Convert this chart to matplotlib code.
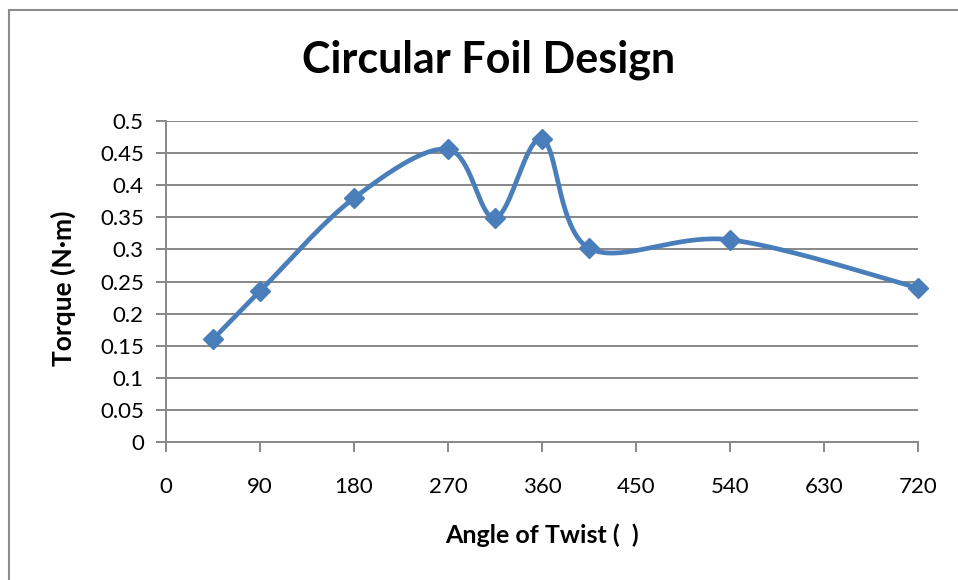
import numpy as np
import matplotlib
matplotlib.use("Agg")
import matplotlib.pyplot as plt
from matplotlib.patches import Rectangle

angles = [45, 90, 180, 270, 315, 360, 405, 540, 720]
torque = [0.160, 0.235, 0.380, 0.456, 0.349, 0.472, 0.302, 0.315, 0.240]
xticks = [0, 90, 180, 270, 360, 450, 540, 630, 720]
yticks = [0, 0.05, 0.1, 0.15, 0.2, 0.25, 0.3, 0.35, 0.4, 0.45, 0.5]
ytick_labels = ["0", "0.05", "0.1", "0.15", "0.2", "0.25", "0.3", "0.35", "0.4", "0.45", "0.5"]
title = "Circular Foil Design"
xlabel = "Angle of Twist (  )"
ylabel = "Torque (N\u00b7m)"

plt.rcParams['font.family'] = ['Lato', 'DejaVu Sans']

def smooth(xs, ys, n=40):
    x = np.asarray(xs, float); y = np.asarray(ys, float)
    px, py = [], []
    for i in range(len(x) - 1):
        x0, y0 = (x[i-1], y[i-1]) if i > 0 else (x[i], y[i])
        x3, y3 = (x[i+2], y[i+2]) if i + 2 < len(x) else (x[i+1], y[i+1])
        x1, y1 = x[i], y[i]
        x2, y2 = x[i+1], y[i+1]
        c1x = x1 + (x2 - x0) / 6; c1y = y1 + (y2 - y0) / 6
        c2x = x2 - (x3 - x1) / 6; c2y = y2 - (y3 - y1) / 6
        t = np.linspace(0, 1, n)
        bx = (1-t)**3*x1 + 3*(1-t)**2*t*c1x + 3*(1-t)*t**2*c2x + t**3*x2
        by = (1-t)**3*y1 + 3*(1-t)**2*t*c1y + 3*(1-t)*t**2*c2y + t**3*y2
        px.extend(bx); py.extend(by)
    return np.array(px), np.array(py)

fig = plt.figure(figsize=(9.58, 5.80), dpi=100)
fig.patches.append(Rectangle((9/958, -0.1), 1.2, 1 - 10/580 + 0.1, transform=fig.transFigure,
                             fill=False, edgecolor='#8c8c8c', linewidth=1.5))
ax = fig.add_axes([166/958, 1 - 442/580, 752/958, 321/580])

gray = '#878787'
ax.set_xlim(0, 720)
ax.set_ylim(0, 0.5)
ax.set_yticks(yticks)
ax.set_yticklabels(ytick_labels)
ax.set_xticks(xticks)
for y in yticks[1:]:
    ax.axhline(y, color=gray, linewidth=1.4, zorder=1)

sx, sy = smooth(angles, torque)
ax.plot(sx, sy, color='#4a7ebb', linewidth=3.4, solid_capstyle='round', zorder=3, clip_on=False)
ax.plot(angles, torque, linestyle='none', marker='D', markersize=10, color='#4a7ebb', zorder=4, clip_on=False)

for s in ['top', 'right']:
    ax.spines[s].set_visible(False)
for s in ['left', 'bottom']:
    ax.spines[s].set_color(gray)
    ax.spines[s].set_linewidth(1.4)
ax.tick_params(axis='both', colors=gray, width=1.4, length=7, labelcolor='black', labelsize=16)
ax.tick_params(axis='x', pad=18)
ax.tick_params(axis='y', pad=9)

fig.text(489/958, 1 - 60/580, title, ha='center', va='center', fontsize=31, fontweight='bold')
fig.text(542/958, 1 - 535/580, xlabel, ha='center', va='center', fontsize=18, fontweight='bold')
fig.text(63/958, 1 - 288/580, ylabel, ha='center', va='center', rotation=90, fontsize=19, fontweight='bold')

fig.savefig('out.png', dpi=100)
